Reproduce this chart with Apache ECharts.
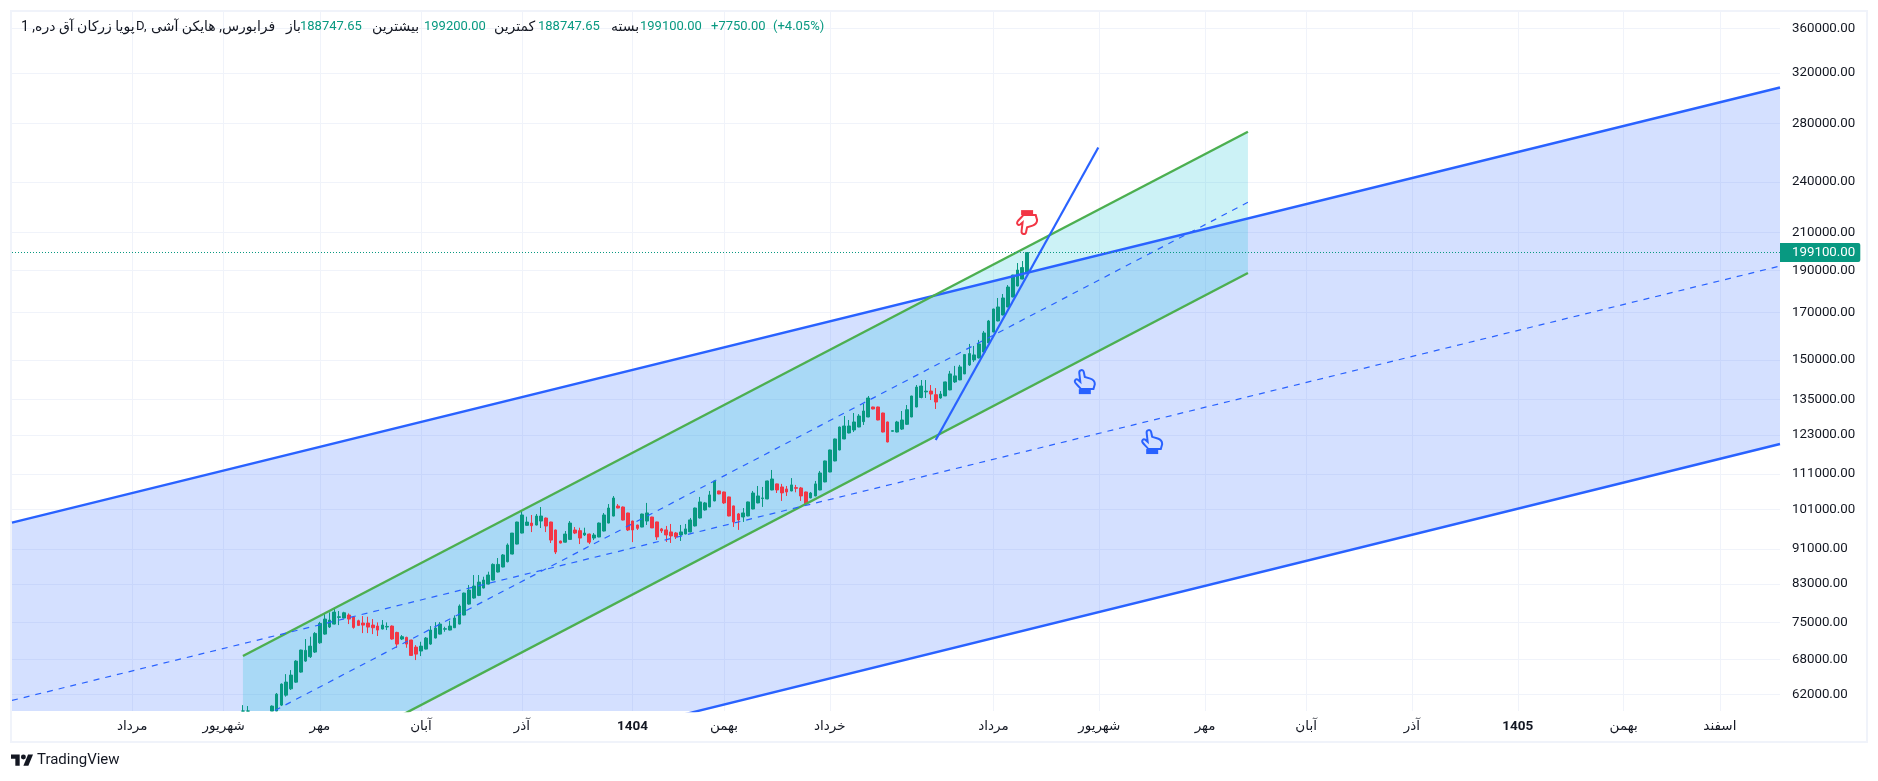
<!DOCTYPE html>
<html><head><meta charset="utf-8">
<style>html,body{margin:0;padding:0;background:#fff}#c{width:1878px;height:781px}</style>
<script src="https://cdn.jsdelivr.net/npm/echarts@6/dist/echarts.min.js"></script>
</head><body><div id="c"></div>
<script>
const firstBar = 48;
// open, close, low, high (bars below the visible price range are null)
const candles = [
[59320,59320,59320,60250],[59320,59320,59320,60100],[null,null,null,null],[null,null,null,null],[null,null,null,null],[null,null,null,null],
[59320,60090,59320,60200],[59320,62020,59320,62210],[60250,63690,60100,63800],[61860,64030,61610,65390],[62900,65220,62710,66090],[64020,67680,63920,67840],
[65740,69680,65630,69750],[67680,69620,67540,71740],[68460,70410,68240,72180],[69310,72810,69140,73060],[71030,74760,70850,75070],[72680,75630,72560,76760],
[74050,75430,73870,76960],[74630,77030,74570,77650],[75960,76090,74430,77240],[75830,76890,75770,77090],[76430,75630,74630,76760],[76030,73980,73720,76090],
[75290,74370,74240,75500],[74830,74430,72870,76220],[74830,74040,72870,76090],[74430,73910,72680,75630],[74240,73460,72310,74960],[73660,74430,73590,75430],
[74050,74170,73460,74960],[74240,71740,71610,74370],[73000,70790,70100,73130],[71740,72180,71550,72490],[72050,70790,70100,72180],[71550,68700,68640,71610],
[70230,68940,67860,70600],[69500,70410,68580,71220],[69860,71930,69800,72120],[70790,73460,70650,74240],[71930,73850,71860,75020],[72680,74630,72610,75020],
[73620,73720,73130,74110],[73460,74240,73400,75300],[73910,75830,73850,76360],[74630,78270,74570,78610],[76430,81000,76360,81100],[78680,81650,78540,82730],
[79940,82510,79800,84950],[80500,83380,80350,84950],[82080,83830,82010,84570],[82940,84950,82870,85700],[83830,87370,83760,87610],[85630,87370,85530,88850],
[86770,89570,86700,89790],[87990,91960,87840,92360],[89790,94910,89700,94920],[92190,97720,92110,97790],[94910,99550,94820,100770],[96860,97710,96780,99100],
[97450,96770,95160,99550],[96940,99270,96850,99800],[97970,99270,96180,101670],[98750,96690,95160,98890],[97720,93170,92440,97790],[95680,90270,89790,95780],
[92930,92440,92360,93010],[92660,94660,92560,95420],[93330,97450,93260,97970],[95680,94910,94660,96430],[95510,93670,92190,96260],[94420,94910,94170,96260],
[94660,92660,92190,94770],[93670,94420,93170,94910],[93920,97450,93870,97590],[95420,99550,95320,100070],[97450,101400,97380,102470],[99270,104120,99190,104660],
[101940,101400,101330,102470],[101670,98230,98140,101810],[100070,95680,95420,100150],[97970,95680,92660,98060],[96940,96100,95680,97030],[96430,99800,96380,99900],
[97970,100090,96960,102770],[99010,96200,96180,99090],[97740,93950,93200,97790],[95950,95440,94930,96200],[95700,94440,92710,96710],[95190,94190,92460,97220],
[94930,93950,93430,95190],[94440,95190,92950,96960],[94680,95950,94600,97220],[95190,98260,95100,98770],[96710,101400,96580,101510],[98770,103040,98640,104410],
[100880,102770,100700,103040],[101690,104960,101610,106070],[103310,108910,103210,109040],[106070,105240,105160,106150],[105790,102770,102510,105880],[104410,99290,99190,104500],
[101960,97740,96450,102040],[99830,98260,95700,100090],[99030,100090,97740,101400],[99290,103040,99210,103130],[101140,105500,101050,106070],[102770,104680,102680,107480],
[103960,104140,101690,107200],[103860,108910,103770,108990],[106350,109480,106270,112120],[108070,106350,105500,108160],[107200,105530,103310,108070],[106630,105790,104680,107480],
[106070,107780,105980,109740],[107010,106820,105700,107780],[106920,104680,103310,107200],[105790,102500,102410,105880],[104140,105500,104050,105790],[104680,108070,104590,108910],
[106350,111230,106270,111830],[108630,114820,108540,114920],[111520,118200,111450,118290],[114820,121690,114720,121810],[118200,125590,118090,125730],[121690,125930,121610,129290],
[123620,125930,123510,127940],[124610,127270,123940,130330],[125590,129290,125520,129950],[127380,131020,126270,133450],[128960,135590,128890,136310],[132410,131720,131600,132520],
[132410,127940,127840,132520],[130320,123940,123820,130430],[127270,120720,120600,127380],[124170,124390,124120,124420],[123940,127270,123820,127640],[124910,127940,124610,131020],
[126490,131470,126270,133100],[128960,136310,128890,136380],[132410,139560,132310,140320],[135780,139950,135470,142180],[137790,138090,135590,142180],[138100,137020,134870,140320],
[136780,134160,131720,139190],[135590,137020,135350,138100],[136340,141470,136280,141600],[138520,144500,138390,145640],[141470,143740,141100,147580],[142230,147190,142110,147980],
[144500,152060,144420,152160],[147980,152460,147580,156400],[149930,151930,149140,155570],[150720,156400,150550,158060],[153120,161000,152960,161860],[156810,166180,156680,166630],
[161420,171530,161300,171650],[166180,172440,166030,176580],[168830,176580,168690,178460],[172440,181770,172310,182740],[177040,187630,176930,187730],[182260,190120,182110,193660],
[185650,191350,185520,194690],[188747.65,199100,188747.65,199200]
];
const yTicks = [360000,320000,280000,240000,210000,190000,170000,150000,135000,123000,111000,101000,91000,83000,75000,68000,62000];
const monthBars = [25,44,64,85,106,129,148,170,204,226,248,269,291,313,335,355];
const monthNames = ['مرداد','شهریور','مهر','آبان','آذر','1404','بهمن','خرداد','مرداد','شهریور','مهر','آبان','آذر','1405','بهمن','اسفند'];
const lastPrice = 199100;
// channels: start bar, end bar, upper at start, lower at start, upper at end, lower at end
const blueChannel = [0,367.5,97550,37940,307890,120070];
const greenChannel = [48,256.9,68600,47130,273960,188620];
const blueMid = [[0,61000],[367.5,192130]];
const greenMid = [[48,56850],[256.9,227370]];
const trendLine = [[192,121350],[225.8,262770]];
const handsUp = [[223,141400],[237,120700]];
const handsDown = [[211,215770]];
const headerTexts = [
 ['پویا زرکان آق دره, 1',21,'#131722',14],['D,',136,'#131722',13],['فرابورس, هایکن آشی',151,'#131722',14],
 ['باز',286,'#131722',14],['188747.65',300,'#089981',13],['بیشترین',372,'#131722',14],['199200.00',424,'#089981',13],
 ['کمترین',494,'#131722',14],['188747.65',538,'#089981',13],['بسته',611,'#131722',14],['199100.00',640,'#089981',13],
 ['+7750.00',711,'#089981',13],['(+4.05%)',773,'#089981',13]];

const UP='#089981',DOWN='#F23645',BLUE='#2962FF',GREEN='#4CAF50';
const FONT='Roboto, "DejaVu Sans", sans-serif';
const chart=echarts.init(document.getElementById('c'),null,{renderer:'canvas'});
const band=(color,ch,z)=>({type:'custom',clip:true,z,silent:true,
  data:[ch],encode:{x:[0,1],y:[2,3,4,5]},
  renderItem:(p,api)=>{const c=[[0,2],[1,4],[1,5],[0,3]].map(([a,b])=>api.coord([api.value(a),api.value(b)]));
    return {type:'polygon',shape:{points:c},style:{fill:color}};}});
const seg=(data,color,width,dash,z)=>({type:'line',data,showSymbol:false,symbol:'none',silent:true,z,
  lineStyle:{color,width,type:dash||'solid'}});
const handOutline='M20 56 C14 48 8 44 3 37 C0 32 5 25 11 29 L18 35 L15 10 C14 1 26 -2 28 7 L31 21 L47 26 C56 29 60 34 60 42 L56 56 Z';
const handCuff='M20 58 L56 58 L56 70 L20 70 Z';
const hand=(data,color,flip)=>({type:'custom',z:6,silent:true,clip:false,data,encode:{x:0,y:1},
  renderItem:(p,api)=>{const c=api.coord([api.value(0),api.value(1)]);
    return {type:'group',x:c[0],y:c[1],scaleY:flip?-1:1,children:[
      {type:'path',shape:{pathData:handOutline,x:-10,y:-12,width:20,height:19,layout:'cover'},style:{fill:'none',stroke:color,lineWidth:2}},
      {type:'path',shape:{pathData:handCuff,x:-6,y:7,width:12,height:5,layout:'cover'},style:{fill:color}}
    ]};}});
chart.setOption({
 animation:false,backgroundColor:'#fff',
 grid:{left:12,top:12,width:1768,height:699,containLabel:false},
 xAxis:{type:'value',min:0,max:367.5,axisLine:{show:false},
   axisTick:{show:false,customValues:monthBars},
   splitLine:{show:true,lineStyle:{color:'#f0f3fa',width:1}},
   axisLabel:{customValues:monthBars,margin:9,color:'#131722',fontFamily:FONT,fontSize:13.5,
     formatter:v=>{const n=monthNames[monthBars.indexOf(v)];return /^\d/.test(n)?'{b|'+n+'}':n;},
     rich:{b:{fontWeight:'bold',fontFamily:FONT,fontSize:13.5,color:'#131722'}}}},
 yAxis:{type:'log',position:'right',min:59320,max:375840,axisLine:{show:false},
   axisTick:{show:false,customValues:yTicks},
   splitLine:{show:true,lineStyle:{color:'#f0f3fa',width:1}},
   axisLabel:{customValues:yTicks,margin:12,align:'left',color:'#131722',fontFamily:FONT,fontSize:13.3,padding:[0,0,2,0],
     formatter:v=>Number(v).toFixed(2)}},
 series:[
  band('rgba(41,98,255,0.2)',blueChannel,1),
  band('rgba(0,188,212,0.2)',greenChannel,1),
  {type:'candlestick',z:2,silent:true,barWidth:3.2,clip:true,
   data:candles.map((c,i)=>[firstBar+i,c[0],c[1],c[2],c[3]]),encode:{x:0,y:[1,2,3,4]},
   itemStyle:{color:UP,color0:DOWN,borderColor:UP,borderColor0:DOWN,borderWidth:1},
   markLine:{silent:true,symbol:'none',animation:false,
     lineStyle:{color:UP,type:[1,2],width:1.2,opacity:1},
     label:{show:true,position:'end',distance:0,formatter:()=>lastPrice.toFixed(2),color:'#fff',backgroundColor:UP,
       fontFamily:FONT,fontSize:13.3,padding:[3,5,3,12],borderRadius:[0,2,2,0]},
     data:[{yAxis:lastPrice}]}},
  seg([[blueChannel[0],blueChannel[2]],[blueChannel[1],blueChannel[4]]],BLUE,2.4,null,4),
  seg([[blueChannel[0],blueChannel[3]],[blueChannel[1],blueChannel[5]]],BLUE,2.4,null,4),
  seg([[greenChannel[0],greenChannel[2]],[greenChannel[1],greenChannel[4]]],GREEN,2.4,null,4),
  seg([[greenChannel[0],greenChannel[3]],[greenChannel[1],greenChannel[5]]],GREEN,2.4,null,4),
  seg(blueMid,BLUE,1.2,[6,6],4),
  seg(greenMid,BLUE,1.2,[6,6],4),
  seg(trendLine,BLUE,2.2,null,5),
  hand(handsUp,BLUE,false),
  hand(handsDown,DOWN,true)
 ],
 graphic:[
  {type:'rect',silent:true,z:0,shape:{x:11,y:11,width:1856,height:731},style:{fill:'none',stroke:'#f0f3fa',lineWidth:2}},
  ...headerTexts.map(t=>({type:'text',silent:true,z:20,x:t[1],y:27,style:{text:t[0],fill:t[2],font:t[3]+'px '+FONT,verticalAlign:'middle'}})),
  {type:'group',x:11,y:752,scaleX:0.62,scaleY:0.62,silent:true,children:[
    {type:'polygon',shape:{points:[[14,22],[7,22],[7,11],[0,11],[0,4],[14,4]]},style:{fill:'#131722'}},
    {type:'polygon',shape:{points:[[28,22],[20,22],[27.5,4],[35.5,4]]},style:{fill:'#131722'}},
    {type:'circle',shape:{cx:20,cy:8,r:4},style:{fill:'#131722'}}]},
  {type:'text',silent:true,x:37,y:760.5,style:{text:'TradingView',fill:'#131722',font:'15px '+FONT,verticalAlign:'middle'}}
 ]
});
</script></body></html>
